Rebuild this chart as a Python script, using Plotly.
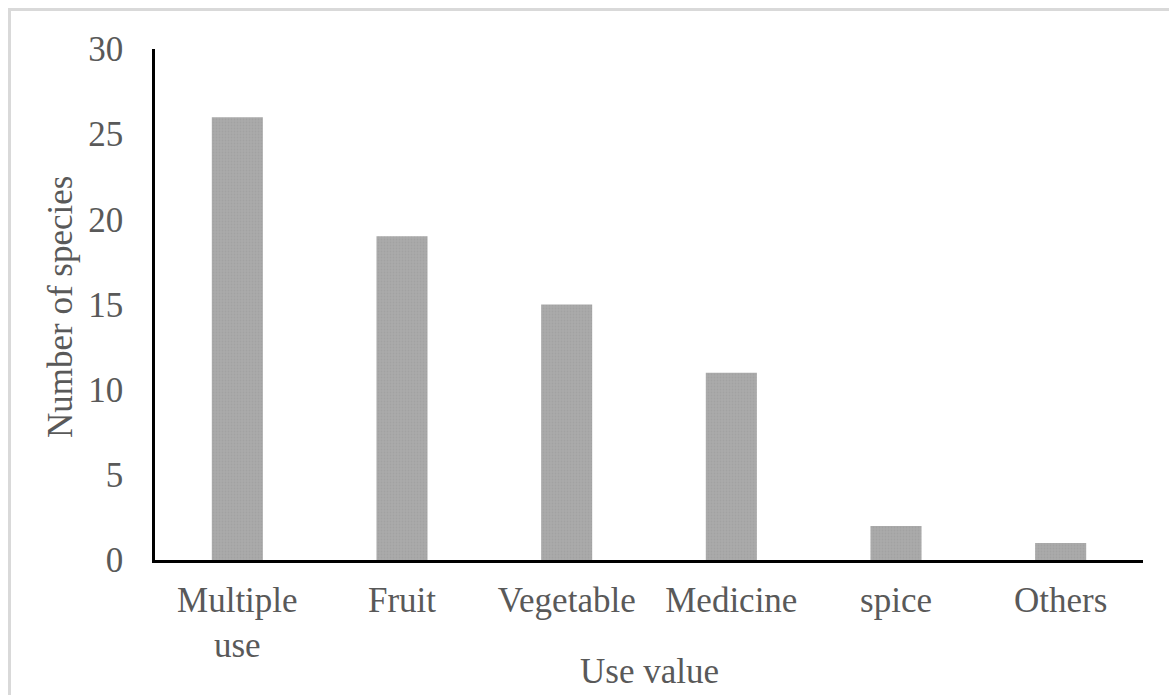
import plotly.graph_objects as go

categories = ["Multiple<br>use", "Fruit", "Vegetable", "Medicine", "spice", "Others"]
values = [26, 19, 15, 11, 2, 1]
y_ticks = [0, 5, 10, 15, 20, 25, 30]

FONT = "Liberation Serif, Times New Roman, serif"
TXT = "#595959"
FS = 35

W, H = 1169, 695
L, T, R, B = 155, 49, 26, 135
pw, ph = W - L - R, H - T - B

fig = go.Figure(
    go.Bar(
        x=categories,
        y=values,
        width=0.31,
        marker=dict(
            color="#a6a6a6",
            line=dict(width=0),
            pattern=dict(shape=".", fgcolor="#9a9a9a", bgcolor="#ababab", size=3, solidity=0.4),
        ),
    )
)

fig.update_layout(
    width=W,
    height=H,
    margin=dict(l=L, r=R, t=T, b=B),
    paper_bgcolor="white",
    plot_bgcolor="white",
    showlegend=False,
    font=dict(family=FONT, size=FS, color=TXT),
)

fig.update_xaxes(
    showline=True,
    linecolor="black",
    linewidth=2.5,
    showgrid=False,
    ticks="",
    tickfont=dict(family=FONT, size=FS, color=TXT),
    ticklabelstandoff=7,
)
fig.update_yaxes(
    range=[0, 30],
    tickvals=y_ticks,
    showline=True,
    linecolor="black",
    linewidth=2.5,
    showgrid=False,
    zeroline=False,
    ticks="",
    tickfont=dict(family=FONT, size=FS, color=TXT),
    ticklabelstandoff=22,
)

# axis titles
fig.add_annotation(
    text="Use value", xref="paper", yref="paper",
    x=0.5, y=(ph - (671 - T)) / ph, xanchor="center", yanchor="middle",
    showarrow=False, font=dict(family=FONT, size=FS, color=TXT),
)
fig.add_annotation(
    text="Number of species", xref="paper", yref="paper",
    x=(60 - L) / pw, y=(ph - (307 - T)) / ph, xanchor="center", yanchor="middle",
    textangle=-90, showarrow=False, font=dict(family=FONT, size=FS, color=TXT),
)

# outer frame (runs past the right and bottom edges, as in the reference)
fig.add_shape(
    type="rect", xref="paper", yref="paper",
    x0=(9.5 - L) / pw, x1=1.2, y0=-0.5, y1=(ph + T - 9.5) / ph,
    line=dict(color="#d9d9d9", width=3), fillcolor="rgba(0,0,0,0)", layer="below",
)

fig.write_html(
    "out.html",
    config={"displayModeBar": False},
    post_script="document.body.style.margin='0';document.documentElement.style.overflow='hidden';",
)
